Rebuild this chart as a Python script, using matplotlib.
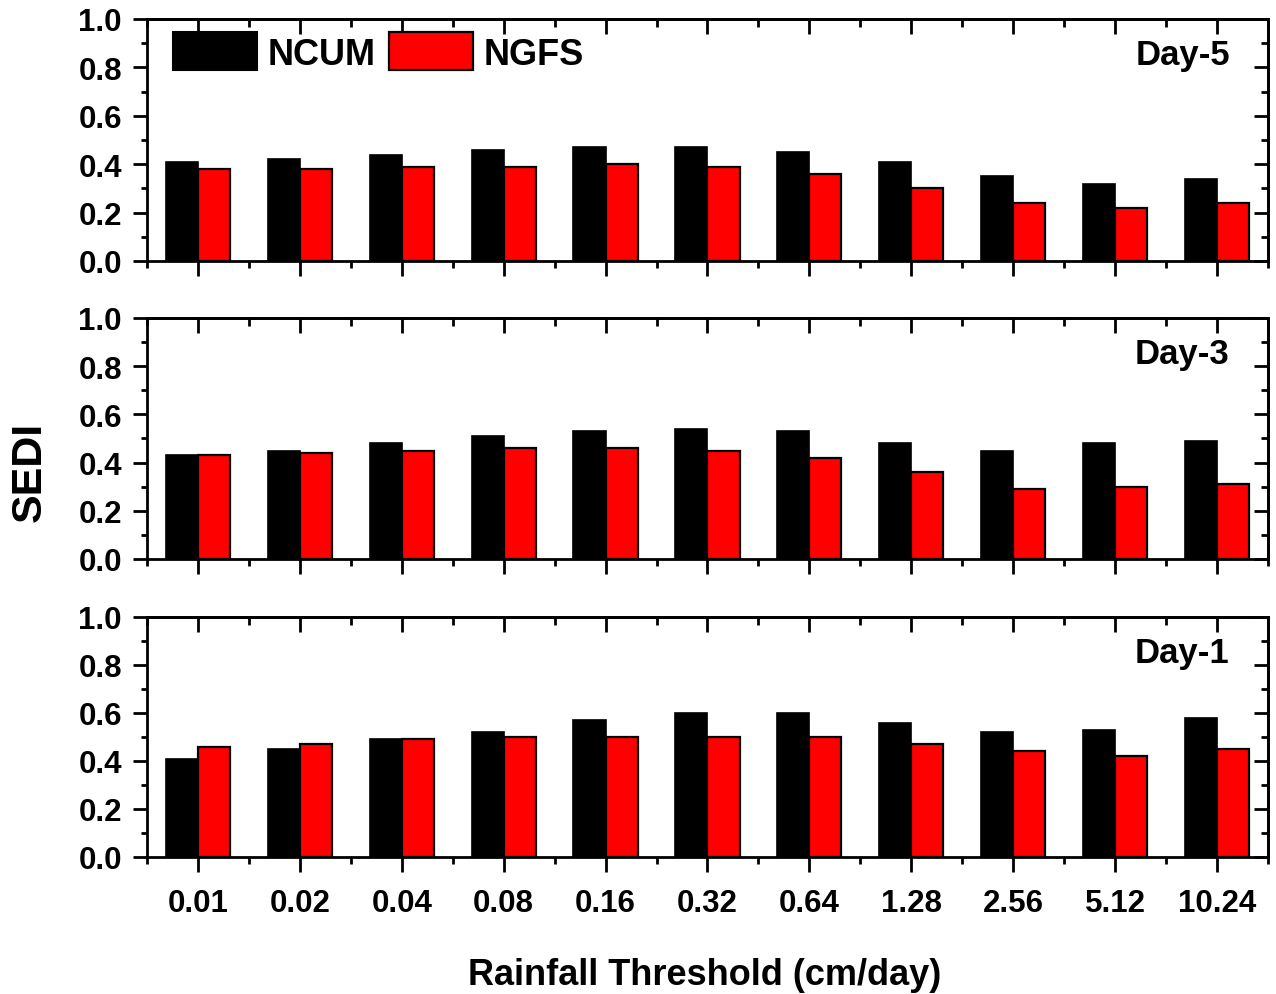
"""SEDI vs rainfall threshold for NCUM and NGFS at Day-5, Day-3 and Day-1 lead times."""

import numpy as np
import matplotlib
matplotlib.use("Agg")
import matplotlib.pyplot as plt
from matplotlib.ticker import MultipleLocator, FormatStrFormatter
from matplotlib.patches import Patch

thresholds = ["0.01", "0.02", "0.04", "0.08", "0.16", "0.32",
              "0.64", "1.28", "2.56", "5.12", "10.24"]

ncum_day5 = [0.41, 0.42, 0.44, 0.46, 0.47, 0.47, 0.45, 0.41, 0.35, 0.32, 0.34]
ngfs_day5 = [0.38, 0.38, 0.39, 0.39, 0.40, 0.39, 0.36, 0.30, 0.24, 0.22, 0.24]

ncum_day3 = [0.43, 0.45, 0.48, 0.51, 0.53, 0.54, 0.53, 0.48, 0.45, 0.48, 0.49]
ngfs_day3 = [0.43, 0.44, 0.45, 0.46, 0.46, 0.45, 0.42, 0.36, 0.29, 0.30, 0.31]

ncum_day1 = [0.41, 0.45, 0.49, 0.52, 0.57, 0.60, 0.60, 0.56, 0.52, 0.53, 0.58]
ngfs_day1 = [0.46, 0.47, 0.49, 0.50, 0.50, 0.50, 0.50, 0.47, 0.44, 0.42, 0.45]

panels = [
    ("Day-5", ncum_day5, ngfs_day5),
    ("Day-3", ncum_day3, ngfs_day3),
    ("Day-1", ncum_day1, ngfs_day1),
]

plt.rcParams["font.family"] = ["Liberation Sans", "DejaVu Sans"]
plt.rcParams["font.weight"] = "bold"

fig = plt.figure(figsize=(12.76, 9.95), dpi=100)

# axes boxes in figure fraction (left, bottom, width, height)
boxes = [
    (0.1152, 0.7367, 0.8785, 0.2432),
    (0.1152, 0.4372, 0.8785, 0.2422),
    (0.1152, 0.1377, 0.8785, 0.2412),
]

LW = 2.0
TICK_FS = 22.5
x = np.arange(len(thresholds))
minor_x = np.arange(-0.5, len(thresholds), 1)
w = 0.315
axes = []
for (day, ncum, ngfs), box in zip(panels, boxes):
    ax = fig.add_axes(box)
    ax.bar(x - w / 2, ncum, w, color="black", edgecolor="black", linewidth=1.2)
    ax.bar(x + w / 2, ngfs, w, color="#ff0000", edgecolor="black", linewidth=1.6)
    ax.set_xlim(-0.5, len(thresholds) - 0.5)
    ax.set_ylim(0, 1.0)
    ax.yaxis.set_major_locator(MultipleLocator(0.2))
    ax.yaxis.set_minor_locator(MultipleLocator(0.1))
    ax.yaxis.set_major_formatter(FormatStrFormatter("%.1f"))
    ax.set_xticks(x)
    ax.set_xticks(minor_x, minor=True)
    ax.set_xticklabels(thresholds)
    for s in ax.spines.values():
        s.set_linewidth(LW)
    # left / bottom outward, right / top inward like the Origin original
    ax.tick_params(axis="y", which="major", direction="out", length=10, width=LW, pad=8,
                   labelsize=TICK_FS)
    ax.tick_params(axis="y", which="minor", direction="out", length=4.5, width=LW)
    ax.tick_params(axis="x", which="major", direction="out", length=11, width=LW, pad=11,
                   labelsize=TICK_FS)
    ax.tick_params(axis="x", which="minor", direction="out", length=5, width=LW)
    ax.text(0.966, 0.814, day, transform=ax.transAxes, ha="right", va="baseline",
            fontsize=25, fontweight="bold")

    axt = ax.secondary_xaxis("top")
    axt.set_xticks(x)
    axt.set_xticks(minor_x, minor=True)
    axt.tick_params(which="major", direction="in", length=11, width=LW, labeltop=False)
    axt.tick_params(which="minor", direction="in", length=5.5, width=LW)
    axt.spines["top"].set_linewidth(LW)
    axr = ax.secondary_yaxis("right")
    axr.yaxis.set_major_locator(MultipleLocator(0.2))
    axr.yaxis.set_minor_locator(MultipleLocator(0.1))
    axr.tick_params(which="major", direction="in", length=10, width=LW, labelright=False)
    axr.tick_params(which="minor", direction="in", length=5, width=LW)
    axr.spines["right"].set_linewidth(LW)
    axes.append(ax)

for ax in axes[:-1]:
    ax.tick_params(axis="x", labelbottom=False)

handles = [Patch(facecolor="black", edgecolor="black", linewidth=1.5),
           Patch(facecolor="#ff0000", edgecolor="black", linewidth=1.6)]
axes[0].legend(handles, ["NCUM", "NGFS"], loc="upper left", ncol=2, frameon=False,
               prop={"size": 26, "weight": "bold"}, handlelength=2.33, handleheight=1.25,
               handletextpad=0.3, columnspacing=0.36, bbox_to_anchor=(0.0232, 0.945),
               borderaxespad=0.0, borderpad=0.0)

fig.text(0.0231, 0.5256, "SEDI", rotation=90, ha="center", va="center",
         fontsize=31, fontweight="bold")
fig.text(0.5525, 0.020, "Rainfall Threshold (cm/day)", ha="center", va="center",
         fontsize=26, fontweight="bold")

fig.savefig("out.png", dpi=100)
